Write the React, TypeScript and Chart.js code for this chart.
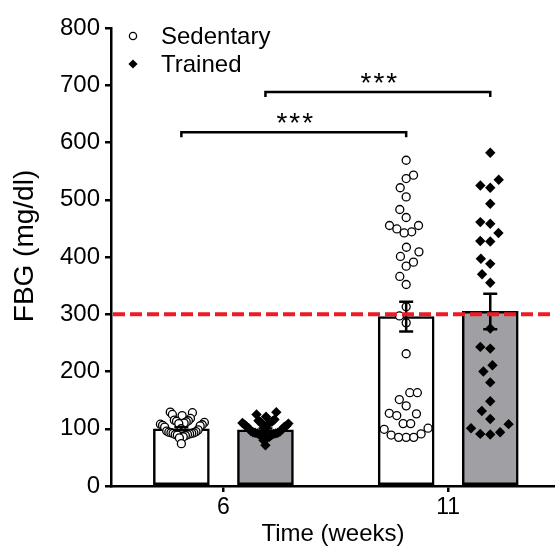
import { useEffect, useRef } from "react";
import { Chart, registerables } from "chart.js";

Chart.register(...registerables);

// ---- data ----
const timeLabels = ["6", "11"];
const seriesNames = ["Sedentary", "Trained"];
const xTitle = "Time (weeks)";
const yTitle = "FBG (mg/dl)";
const sedentaryMean = [100, 296];
const trainedMean = [98, 305];
const sedentarySem = [2.5, 26];
const trainedSem = [2.5, 31];

const sedentaryWeek6 = [129, 128, 125, 123, 118, 115, 114, 113, 112, 111, 110, 109, 108, 107, 106, 105, 103, 100, 98, 96, 95, 94, 93, 93, 92, 92, 91, 90, 90, 89, 88, 86, 84, 74];
const trainedWeek6 = [129, 125, 121, 116, 114, 113, 112, 111, 110, 109, 108, 107, 106, 105, 104, 103, 101, 99, 97, 96, 95, 94, 93, 93, 92, 92, 91, 90, 89, 88, 86, 84, 80, 71];
const sedentaryWeek11 = [569, 543, 537, 521, 505, 483, 469, 455, 455, 449, 444, 442, 417, 409, 401, 391, 384, 366, 352, 313, 297, 285, 231, 163, 163, 151, 140, 127, 126, 123, 109, 109, 101, 99, 91, 89, 85, 85, 85];
const trainedWeek11 = [582, 535, 525, 521, 493, 461, 458, 442, 428, 427, 397, 388, 370, 355, 275, 243, 240, 211, 200, 181, 148, 131, 117, 108, 101, 94, 91, 90];

const yMin = 0;
const yMax = 800;
const yStep = 100;
const threshold = 300;
const sigLabels = ["***", "***"];
const sigHeights = [618, 688];

// ---- layout / style constants ----
const GROUP_X = [0, 1];
const BAR_OFFSET = 0.187;
const X_MIN = -0.5;
const X_MAX = 1.475;
const FONT = "'Liberation Sans', Arial, Helvetica, sans-serif";
const GRAY = "#a09fa4";
const RED = "#ed1c24";

// beeswarm: elliptical collision (dxMin horizontally, dyMin vertically), in pixels
function swarm(ysPx: number[], dxMin: number, dyMin: number, maxHalf: number): number[] {
  const order = ysPx.map((_, i) => i).sort((a, b) => ysPx[b] - ysPx[a]);
  const xs = new Array(ysPx.length).fill(0);
  const placed: number[] = [];
  for (const i of order) {
    const ivs: [number, number][] = [];
    for (const j of placed) {
      const dy = ysPx[j] - ysPx[i];
      if (Math.abs(dy) < dyMin) {
        const h = dxMin * Math.sqrt(1 - (dy / dyMin) ** 2);
        ivs.push([xs[j] - h, xs[j] + h]);
      }
    }
    const cands = [0];
    ivs.forEach(([a, b]) => cands.push(a, b));
    cands.sort((a, b) => Math.abs(a) - Math.abs(b));
    const ok = cands.find((c) => ivs.every(([a, b]) => c <= a + 1e-6 || c >= b - 1e-6));
    xs[i] = ok ?? 0;
    placed.push(i);
  }
  const m = Math.max(...xs.map((v) => Math.abs(v)));
  if (m > maxHalf) {
    const k = maxHalf / m;
    for (let i = 0; i < xs.length; i++) xs[i] *= k;
  }
  return xs;
}

const overlayPlugin = {
  id: "overlay",
  afterDatasetsDraw(chart: any) {
    const { ctx, chartArea, scales } = chart;
    const x = scales.x;
    const y = scales.y;
    ctx.save();
    ctx.strokeStyle = "#000";
    ctx.lineWidth = 2.5;
    ctx.lineCap = "butt";
    const groups = [
      { off: -BAR_OFFSET, mean: sedentaryMean, sem: sedentarySem },
      { off: BAR_OFFSET, mean: trainedMean, sem: trainedSem },
    ];
    groups.forEach((g) =>
      GROUP_X.forEach((gx, i) => {
        const px = x.getPixelForValue(gx + g.off);
        const top = y.getPixelForValue(g.mean[i] + g.sem[i]);
        const bot = y.getPixelForValue(g.mean[i] - g.sem[i]);
        ctx.beginPath();
        ctx.moveTo(px, top);
        ctx.lineTo(px, bot);
        ctx.moveTo(px - 7, top);
        ctx.lineTo(px + 7, top);
        ctx.moveTo(px - 7, bot);
        ctx.lineTo(px + 7, bot);
        ctx.stroke();
      })
    );
    // threshold line
    const ty = y.getPixelForValue(threshold);
    ctx.strokeStyle = RED;
    ctx.lineWidth = 4;
    ctx.setLineDash([12, 5]);
    ctx.beginPath();
    ctx.moveTo(chartArea.left + 2, ty);
    ctx.lineTo(chartArea.right, ty);
    ctx.stroke();
    ctx.setLineDash([]);
    // significance brackets (Sedentary 6→11, Trained 6→11)
    const offs = [-BAR_OFFSET, BAR_OFFSET];
    ctx.strokeStyle = "#000";
    ctx.lineWidth = 2.5;
    ctx.fillStyle = "#000";
    ctx.font = `28px ${FONT}`;
    ctx.textAlign = "center";
    ctx.textBaseline = "alphabetic";
    (ctx as any).letterSpacing = "2px";
    offs.forEach((o, k) => {
      const x1 = x.getPixelForValue(GROUP_X[0] + o);
      const x2 = x.getPixelForValue(GROUP_X[1] + o);
      const by = y.getPixelForValue(sigHeights[k]);
      ctx.beginPath();
      ctx.moveTo(x1, by + 5);
      ctx.lineTo(x1, by);
      ctx.lineTo(x2, by);
      ctx.lineTo(x2, by + 5);
      ctx.stroke();
      ctx.fillText(sigLabels[k], (x1 + x2) / 2 + 2, by);
    });
    (ctx as any).letterSpacing = "0px";
    ctx.restore();
  },
  afterDraw(chart: any) {
    const { ctx, chartArea } = chart;
    ctx.save();
    // y-axis title
    ctx.save();
    ctx.translate(25.3, (chartArea.top + chartArea.bottom) / 2 - 11);
    ctx.rotate(-Math.PI / 2);
    ctx.fillStyle = "#000";
    ctx.font = `28px ${FONT}`;
    ctx.textAlign = "center";
    ctx.textBaseline = "middle";
    ctx.fillText(yTitle, 0, 0);
    ctx.restore();
    // legend
    const lx = chartArea.left + 22;
    const tx = chartArea.left + 50;
    const y1 = chartArea.top + 8;
    const y2 = chartArea.top + 36;
    ctx.beginPath();
    ctx.arc(lx, y1, 3.6, 0, Math.PI * 2);
    ctx.fillStyle = "#fff";
    ctx.fill();
    ctx.lineWidth = 1.3;
    ctx.strokeStyle = "#000";
    ctx.stroke();
    const r = 4.6;
    ctx.beginPath();
    ctx.moveTo(lx, y2 - r);
    ctx.lineTo(lx + r, y2);
    ctx.lineTo(lx, y2 + r);
    ctx.lineTo(lx - r, y2);
    ctx.closePath();
    ctx.fillStyle = "#000";
    ctx.fill();
    ctx.font = `24px ${FONT}`;
    ctx.textAlign = "left";
    ctx.textBaseline = "middle";
    ctx.fillText(seriesNames[0], tx, y1 + 1);
    ctx.fillText(seriesNames[1], tx, y2 + 1);
    ctx.restore();
  },
};

export default function App() {
  const ref = useRef<HTMLCanvasElement | null>(null);
  useEffect(() => {
    if (!ref.current) return;
    const ctx = ref.current.getContext("2d")!;
    const pts = (vals: number[], gx: number) => vals.map((v) => ({ x: gx, y: v }));
    const chart = new Chart(ctx, {
      type: "bar",
      data: {
        datasets: [
          {
            type: "scatter",
            label: seriesNames[0],
            data: [
              ...pts(sedentaryWeek6, GROUP_X[0] - BAR_OFFSET),
              ...pts(sedentaryWeek11, GROUP_X[1] - BAR_OFFSET),
            ],
            pointStyle: "circle",
            pointRadius: 4,
            pointBorderWidth: 1.3,
            pointBackgroundColor: "#fff",
            pointBorderColor: "#000",
            showLine: false,
          } as any,
          {
            type: "scatter",
            label: seriesNames[1],
            data: [
              ...pts(trainedWeek6, GROUP_X[0] + BAR_OFFSET),
              ...pts(trainedWeek11, GROUP_X[1] + BAR_OFFSET),
            ],
            pointStyle: "rectRot",
            pointRadius: 5.2,
            pointBorderWidth: 0,
            pointBackgroundColor: "#000",
            pointBorderColor: "#000",
            showLine: false,
          } as any,
          {
            type: "bar",
            label: seriesNames[0] + " mean",
            data: GROUP_X.map((gx, i) => ({ x: gx - BAR_OFFSET, y: sedentaryMean[i] })),
            backgroundColor: "#fff",
            borderColor: "#000",
            borderWidth: 2.5,
            borderSkipped: false,
            barThickness: 56,
            grouped: false,
          } as any,
          {
            type: "bar",
            label: seriesNames[1] + " mean",
            data: GROUP_X.map((gx, i) => ({ x: gx + BAR_OFFSET, y: trainedMean[i] })),
            backgroundColor: GRAY,
            borderColor: "#000",
            borderWidth: 2.5,
            borderSkipped: false,
            barThickness: 56,
            grouped: false,
          } as any,
        ],
      },
      options: {
        animation: false,
        responsive: false,
        layout: { autoPadding: false, padding: { top: 28, left: 0, right: 0, bottom: 0 } },
        plugins: { legend: { display: false }, tooltip: { enabled: false } },
        scales: {
          x: {
            type: "linear",
            min: X_MIN,
            max: X_MAX,
            offset: false,
            afterBuildTicks: (s: any) => {
              s.ticks = GROUP_X.map((v) => ({ value: v }));
            },
            afterFit: (s: any) => {
              s.height = 60;
              s.paddingLeft = 0;
              s.paddingRight = 0;
            },
            ticks: {
              callback: (v: any) => timeLabels[GROUP_X.indexOf(Number(v))] ?? "",
              color: "#000",
              font: { family: FONT, size: 23 },
              padding: 2,
              maxRotation: 0,
              autoSkip: false,
            },
            grid: { offset: false, drawOnChartArea: false, drawTicks: true, tickLength: 6, color: "#000", lineWidth: 2.5 },
            border: { display: true, color: "#000", width: 2.5 },
            title: {
              display: true,
              text: xTitle,
              color: "#000",
              font: { family: FONT, size: 24, lineHeight: 1 },
              padding: { top: 0, bottom: 0 },
            },
          },
          y: {
            type: "linear",
            min: yMin,
            max: yMax,
            afterFit: (s: any) => {
              s.width = 111;
            },
            ticks: {
              stepSize: yStep,
              color: "#000",
              font: { family: FONT, size: 24 },
              padding: 5,
            },
            grid: { drawOnChartArea: false, drawTicks: true, tickLength: 6, color: "#000", lineWidth: 2.5 },
            border: { display: true, color: "#000", width: 2.5 },
            title: { display: false },
          },
        },
      },
      plugins: [overlayPlugin],
    });

    // beeswarm arrangement of individual points (computed from the values via the scales)
    const xs = chart.scales.x;
    const ys = chart.scales.y;
    const arrange = (dsIndex: number, groups: number[][], offs: number[], dx: number, dy: number, maxHalf: number[]) => {
      const data = chart.data.datasets[dsIndex].data as any[];
      let start = 0;
      groups.forEach((vals, g) => {
        const cx = xs.getPixelForValue(GROUP_X[g] + offs[g]);
        const yPx = vals.map((v) => ys.getPixelForValue(v));
        const off = swarm(yPx, dx, dy, maxHalf[g]);
        vals.forEach((_, i) => {
          data[start + i].x = xs.getValueForPixel(cx + off[i]);
        });
        start += vals.length;
      });
    };
    arrange(0, [sedentaryWeek6, sedentaryWeek11], [-BAR_OFFSET, -BAR_OFFSET], 8.5, 15, [23, 22]);
    arrange(1, [trainedWeek6, trainedWeek11], [BAR_OFFSET, BAR_OFFSET], 10, 15, [23, 22]);
    chart.update("none");

    return () => chart.destroy();
  }, []);

  return (
    <div style={{ position: "absolute", left: 0, top: 0, width: 555, height: 546, background: "#fff" }}>
      <canvas ref={ref} width={555} height={546} style={{ display: "block" }} />
    </div>
  );
}
